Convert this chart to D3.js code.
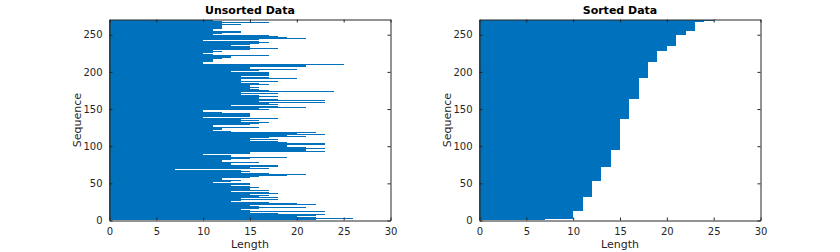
<!DOCTYPE html>
<html><head><meta charset="utf-8">
<script src="https://cdn.jsdelivr.net/npm/d3@7"></script>
<style>
html,body{margin:0;padding:0;background:#fff;}
svg{display:block;font-family:"DejaVu Sans",sans-serif;}
</style></head>
<body><svg id="chart" width="840" height="252"></svg>
<script>
// Sequence lengths (sequence 1 .. 270)
const lengths = [
22,20,26,22,20,23,22,23,18,23,
15,23,15,14,14,16,21,15,16,15,
19,22,20,17,19,13,14,18,21,14,
18,16,17,17,15,18,18,17,13,17,
13,15,15,16,15,15,13,15,17,15,
11,13,12,14,12,16,12,15,16,15,
19,21,17,15,14,15,14,14,7,17,
15,15,18,18,13,9,13,16,12,13,
12,13,15,13,19,13,13,13,10,15,
18,15,23,21,23,21,23,21,23,19,
19,23,19,23,19,18,19,15,18,15,
15,17,21,19,19,23,20,22,20,13,
11,12,10,12,16,11,11,11,15,17,
16,17,14,15,16,14,18,15,10,15,
15,18,15,15,12,12,10,10,17,16,
16,21,18,21,13,18,17,21,23,16,
23,16,18,16,18,16,18,16,19,14,
18,14,16,24,17,16,18,15,16,15,
15,15,17,16,12,14,18,14,16,14,
20,17,14,14,17,17,20,17,17,13,
13,16,20,16,15,15,21,21,21,25,
10,11,10,11,11,11,11,12,13,17,
13,17,11,11,10,11,12,12,11,15,
18,14,15,15,10,13,15,16,17,17,
16,10,17,16,21,19,19,18,17,11,
15,12,14,14,12,11,11,12,11,12,
12,12,17,14,12,17,14,12,11,14
];
const sortedLengths = lengths.slice().sort((a, b) => a - b);
const xTicks = [0, 5, 10, 15, 20, 25, 30];
const yTicks = [0, 50, 100, 150, 200, 250];
const titles = ["Unsorted Data", "Sorted Data"];
const xLabel = "Length";
const yLabel = "Sequence";

(function () {
const svg = d3.select("#chart");
const axisColor = "#262626";
const barColor = "#0072BD";
const panels = [
  {data: lengths, left: 109.5, title: titles[0]},
  {data: sortedLengths, left: 479.5, title: titles[1]}
];
const W = 281, plotTop = 19.5, plotBottom = 220.5;

panels.forEach(p => {
  const x = d3.scaleLinear().domain([0, 30]).range([p.left, p.left + W]);
  const y = d3.scaleLinear().domain([0, 270.5]).range([plotBottom, plotTop]);
  const g = svg.append("g");
  // all bars of a panel in one path (no anti-aliasing seams between bars)
  const path = d3.path();
  const x0 = x(0) - 0.5;
  p.data.forEach((d, i) => {
    const y0 = y(i + 1 + 0.5), y1 = y(i + 1 - 0.5);
    path.rect(x0, y0, x(d) - x0, y1 - y0);
  });
  g.append("path").attr("d", path.toString()).attr("fill", barColor)
    .attr("shape-rendering", "crispEdges");

  const styleAxis = sel => {
    sel.select(".domain").attr("stroke", axisColor).attr("stroke-width", 1);
    sel.selectAll(".tick line").attr("stroke", axisColor);
    sel.selectAll(".tick text").attr("fill", axisColor).style("font-size", "10px")
      .style("font-family", '"DejaVu Sans",sans-serif');
  };
  g.append("g").attr("transform", `translate(0,${plotBottom})`)
    .call(d3.axisBottom(x).tickValues(xTicks).tickSizeInner(-3).tickSizeOuter(0).tickPadding(7))
    .call(styleAxis);
  g.append("g").attr("transform", `translate(0,${plotTop})`)
    .call(d3.axisTop(x).tickValues(xTicks).tickSizeInner(-3).tickSizeOuter(0).tickFormat(""))
    .call(styleAxis);
  g.append("g").attr("transform", `translate(${p.left},0)`)
    .call(d3.axisLeft(y).tickValues(yTicks).tickSizeInner(-3).tickSizeOuter(0).tickPadding(7))
    .call(styleAxis);
  g.append("g").attr("transform", `translate(${p.left + W},0)`)
    .call(d3.axisRight(y).tickValues(yTicks).tickSizeInner(-3).tickSizeOuter(0).tickFormat(""))
    .call(styleAxis);

  g.append("text").attr("x", p.left + W / 2).attr("y", 13.5)
    .attr("text-anchor", "middle").attr("font-weight", "bold")
    .attr("font-size", 11).attr("fill", "#000").text(p.title);
  g.append("text").attr("x", p.left + W / 2).attr("y", 247.5)
    .attr("text-anchor", "middle").attr("font-size", 11).attr("fill", axisColor).text(xLabel);
  g.append("text").attr("transform", `translate(${p.left - 28.5},${(plotTop + plotBottom) / 2}) rotate(-90)`)
    .attr("text-anchor", "middle").attr("font-size", 11).attr("fill", axisColor).text(yLabel);
});
})();
</script></body></html>
